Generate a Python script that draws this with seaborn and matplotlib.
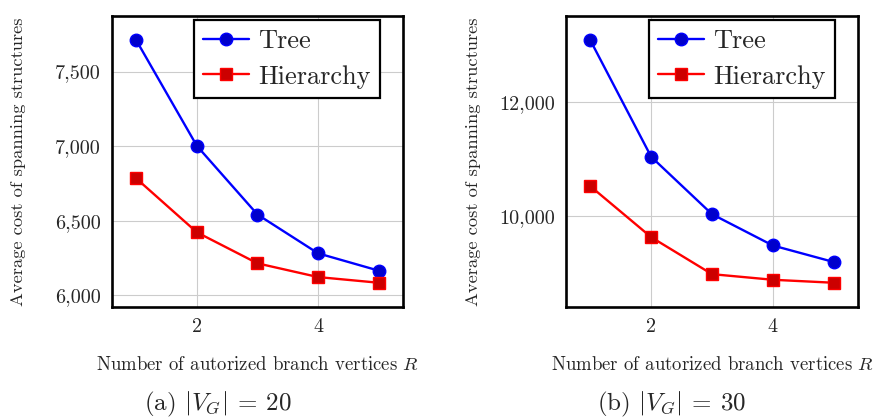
import matplotlib
matplotlib.use("Agg")
import matplotlib.pyplot as plt
import seaborn as sns
import pandas as pd
from matplotlib.ticker import StrMethodFormatter

# values
branch_vertices = [1, 2, 3, 4, 5]
tree_20 = [7710, 7002, 6542, 6282, 6166]
hierarchy_20 = [6784, 6423, 6215, 6123, 6085]
tree_30 = [13074, 11041, 10040, 9494, 9206]
hierarchy_30 = [10528, 9639, 8994, 8896, 8844]

yticks_20 = [6000, 6500, 7000, 7500]
yticks_30 = [10000, 12000]
xticks = [2, 4]
captions = [r"(a) $|V_G|\:=\:20$", r"(b) $|V_G|\:=\:30$"]

sns.set_theme(style="white")
plt.rcParams["font.family"] = ["cmr10", "DejaVu Serif"]
plt.rcParams["mathtext.fontset"] = "cm"
plt.rcParams["axes.unicode_minus"] = False

fig = plt.figure(figsize=(8.79, 4.2), dpi=100)
ax_left = fig.add_axes([112 / 879, 113 / 420, 291 / 879, 291 / 420])
ax_right = fig.add_axes([566 / 879, 113 / 420, 292 / 879, 291 / 420])

panels = [
    (ax_left, tree_20, hierarchy_20, yticks_20),
    (ax_right, tree_30, hierarchy_30, yticks_30),
]

for ax, tree, hier, yticks in panels:
    df = pd.DataFrame({"R": branch_vertices, "Tree": tree, "Hierarchy": hier})
    sns.lineplot(data=df, x="R", y="Tree", ax=ax, color=(0, 0, 1), lw=1.7,
                 marker="o", markersize=9, markerfacecolor=(0, 0, 0.8),
                 markeredgecolor=(0, 0, 1), markeredgewidth=1, label="Tree")
    sns.lineplot(data=df, x="R", y="Hierarchy", ax=ax, color=(1, 0, 0), lw=1.7,
                 marker="s", markersize=8.5, markerfacecolor=(0.8, 0, 0),
                 markeredgecolor=(1, 0, 0), markeredgewidth=1, label="Hierarchy")

    # 10% padding above and below the data, like pgfplots
    lo = min(hier)
    hi = max(tree)
    pad = (hi - lo) * 0.1
    ax.set_ylim(lo - pad, hi + pad)
    ax.set_xlim(0.6, 5.4)
    ax.set_xticks(xticks)
    ax.set_yticks(yticks)
    ax.yaxis.set_major_formatter(StrMethodFormatter("{x:,.0f}"))
    ax.tick_params(labelsize=14.5, length=0, pad=8)
    ax.grid(True, color="#cccccc", lw=0.8)
    for sp in ax.spines.values():
        sp.set_color("black")
        sp.set_linewidth(1.9)

    ax.set_xlabel("Number of autorized branch vertices $R$", fontsize=13.5)
    ax.set_ylabel("Average cost of spanning structures", fontsize=13.3)
    ax.xaxis.set_label_coords(0.5, -0.2)
    ax.xaxis.label.set_va("center")
    ax.yaxis.label.set_va("center")

    leg = ax.legend(loc="upper right", bbox_to_anchor=(0.921, 0.986),
                    fontsize=19, frameon=True, fancybox=False, framealpha=1,
                    edgecolor="black", handlelength=1.75, borderpad=0.35,
                    labelspacing=0.45, handletextpad=0.35, borderaxespad=0)
    leg.get_frame().set_linewidth(1.6)

ax_left.yaxis.set_label_coords(-0.323, 0.5)
ax_right.yaxis.set_label_coords(-0.318, 0.5)

fig.text(218 / 879, 1 - 404 / 420, captions[0], ha="center", va="center", fontsize=18)
fig.text(672 / 879, 1 - 404 / 420, captions[1], ha="center", va="center", fontsize=18)

fig.savefig("out.png", dpi=100)
